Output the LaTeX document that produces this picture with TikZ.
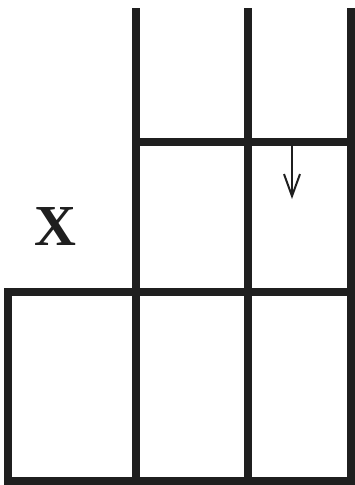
\documentclass[tikz,border=0pt]{standalone}
\usepackage{fontspec}
\setmainfont{Liberation Serif}
\usetikzlibrary{arrows.meta}
\begin{document}
\begin{tikzpicture}[x=1pt,y=-1pt,
  wall/.style={line width=7.5pt,draw={black!88},line cap=rect},
  pointer/.style={line width=2pt,draw={black!88},-{Straight Barb[length=22pt,width=16pt,line width=2pt]}}]
\useasboundingbox (0,0) rectangle (354,485);
% vertical lines
\draw[wall] (136,12) -- (136,481);
\draw[wall] (248,12) -- (248,481);
\draw[wall] (351,12) -- (351,481);
% horizontal lines
\draw[wall] (136,142) -- (351,142);
\draw[wall] (8,292) -- (351,292);
\draw[wall] (8,292) -- (8,481) -- (351,481);
% arrow
\coordinate (a1) at (292,145);
\coordinate (a2) at (292,199);
\draw[pointer] (a1) -- (a2);
% label
\node[font=\fontsize{58}{60}\selectfont\bfseries,text=black!88] (x) at (55,227) {X};
\end{tikzpicture}
\end{document}
